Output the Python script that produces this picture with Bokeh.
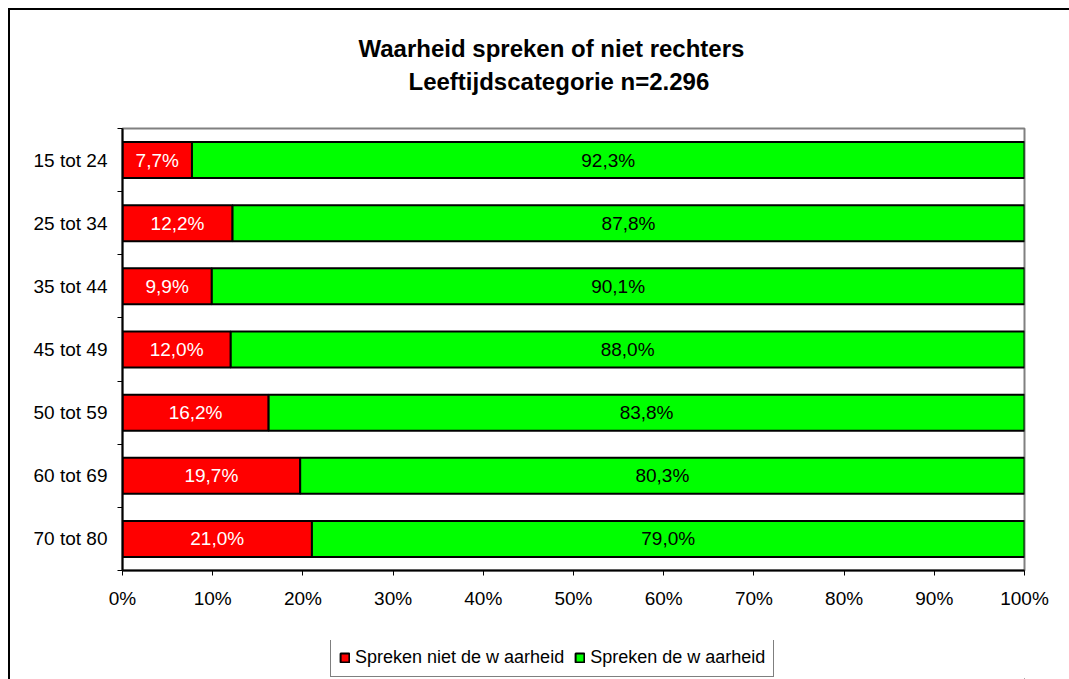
from bokeh.plotting import figure
from bokeh.models import (ColumnDataSource, Range1d, FixedTicker, PrintfTickFormatter,
                          Title, Legend, LegendItem)
from bokeh.layouts import column
from bokeh.core.properties import value
from bokeh.embed import file_html
from bokeh.resources import INLINE

categories = ["15 tot 24", "25 tot 34", "35 tot 44", "45 tot 49", "50 tot 59", "60 tot 69", "70 tot 80"]
niet_waarheid = [7.7, 12.2, 9.9, 12.0, 16.2, 19.7, 21.0]
wel_waarheid = [92.3, 87.8, 90.1, 88.0, 83.8, 80.3, 79.0]
series_names = ["Spreken niet de w aarheid", "Spreken de w aarheid"]
x_ticks = [0, 10, 20, 30, 40, 50, 60, 70, 80, 90, 100]
title_lines = ["Waarheid spreken of niet rechters", "Leeftijdscategorie n=2.296"]

FONT = "Liberation Sans"
FS = "19px"
RED = "#FF0000"
GREEN = "#00FF00"
n = len(categories)
ypos = [n - i - 0.5 for i in range(n)]


def fmt(v):
    return ("%.1f" % v).replace(".", ",") + "%"


src = ColumnDataSource(dict(
    y=ypos,
    red=niet_waarheid,
    green=wel_waarheid,
    green_end=[a + b for a, b in zip(niet_waarheid, wel_waarheid)],
    red_mid=[a / 2 for a in niet_waarheid],
    green_mid=[a + b / 2 for a, b in zip(niet_waarheid, wel_waarheid)],
    red_lbl=[fmt(v) for v in niet_waarheid],
    green_lbl=[fmt(v) for v in wel_waarheid],
))

p = figure(width=1059, height=630, output_backend="svg", toolbar_location=None,
           x_range=Range1d(0, 100), y_range=Range1d(0, n),
           min_border_left=112, min_border_right=45, min_border_top=118, min_border_bottom=70)

p.title.text = title_lines[0]
p.title.align = "left"
p.title.offset = 236
p.title.text_font = FONT
p.title.text_font_size = "24px"
p.title.text_font_style = "bold"
p.title.text_color = "black"
p.title.standoff = 8
# empty spacer between the subtitle and the plot frame
p.add_layout(Title(text=" ", text_font_size="2px", standoff=30), "above")
p.add_layout(Title(text=title_lines[1], align="left", offset=286, text_font=FONT,
                   text_font_size="24px", text_font_style="bold", text_color="black",
                   standoff=0), "above")

p.xgrid.visible = False
p.ygrid.visible = False
p.outline_line_color = "#808080"
p.outline_line_width = 2
p.background_fill_color = "white"

p.hbar(y="y", left=0, right="red", height=0.57, source=src,
       fill_color=RED, line_color="black", line_width=2)
p.hbar(y="y", left="red", right="green_end", height=0.57, source=src,
       fill_color=GREEN, line_color="black", line_width=2)

p.text(x="red_mid", y="y", text="red_lbl", source=src, text_color="white",
       text_align="center", text_baseline="middle", text_font=value(FONT), text_font_size=FS)
p.text(x="green_mid", y="y", text="green_lbl", source=src, text_color="black",
       text_align="center", text_baseline="middle", text_font=value(FONT), text_font_size=FS)

# y axis: labels at centres, tick marks between categories
yax = p.yaxis[0]
yax.ticker = FixedTicker(ticks=ypos, minor_ticks=list(range(n + 1)))
yax.major_label_overrides = {y: c for y, c in zip(ypos, categories)}
yax.major_tick_out = 0
yax.major_tick_in = 0
yax.minor_tick_out = 5
yax.minor_tick_in = 0
yax.minor_tick_line_color = "black"
yax.axis_line_color = "black"
yax.axis_line_width = 2
yax.major_label_text_font = FONT
yax.major_label_text_font_size = FS
yax.major_label_text_color = "black"
yax.major_label_standoff = 10

xax = p.xaxis[0]
xax.ticker = FixedTicker(ticks=x_ticks)
xax.formatter = PrintfTickFormatter(format="%d%%")
xax.major_tick_out = 5
xax.major_tick_in = 0
xax.minor_tick_out = 0
xax.minor_tick_in = 0
xax.axis_line_color = "black"
xax.axis_line_width = 2
xax.major_label_text_font = FONT
xax.major_label_text_font_size = FS
xax.major_label_text_color = "black"
xax.major_label_standoff = 12

# legend strip below the chart (proxy renderers lie outside the visible range)
p2 = figure(width=1059, height=39, output_backend="svg", toolbar_location=None,
            x_range=Range1d(0, 1), y_range=Range1d(0, 1),
            min_border_left=112, min_border_right=45, min_border_top=0, min_border_bottom=0)
p2.axis.visible = False
p2.grid.visible = False
p2.outline_line_color = None
lr1 = p2.hbar(y=[-50], left=[50], right=[51], height=0.5, fill_color=RED, line_color="black", line_width=2)
lr2 = p2.hbar(y=[-50], left=[50], right=[51], height=0.5, fill_color=GREEN, line_color="black", line_width=2)

legend = Legend(items=[LegendItem(label=series_names[0], renderers=[lr1]),
                       LegendItem(label=series_names[1], renderers=[lr2])],
                orientation="horizontal", location=(208, 2),
                label_text_font=FONT, label_text_font_size="18px", label_text_color="black",
                label_height=22,
                glyph_width=11, glyph_height=11, spacing=10, label_standoff=5,
                padding=8, margin=0, border_line_color="black", border_line_width=1,
                background_fill_alpha=1)
p2.add_layout(legend, "center")

layout = column(p, p2, spacing=0,
                styles={"margin-left": "8px", "margin-top": "8px",
                        "border-left": "2px solid black", "border-top": "2px solid black"})

open("out.html", "w").write(file_html(layout, INLINE))
